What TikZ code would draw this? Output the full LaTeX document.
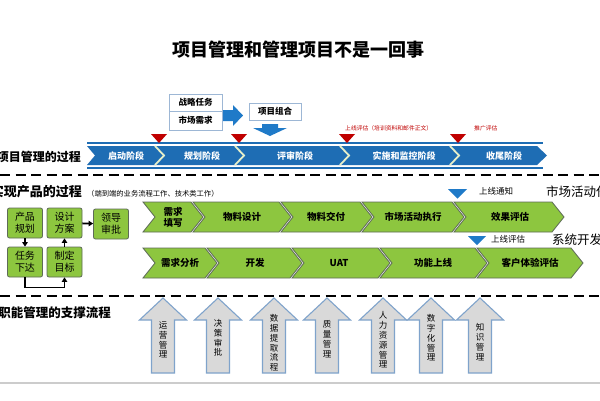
\documentclass[tikz,border=0pt]{standalone}
\usepackage{fontspec}
\setmainfont{Noto Sans CJK SC}
\usetikzlibrary{arrows.meta}
\definecolor{bandblue}{HTML}{1E6DB4}
\definecolor{sepc}{HTML}{E6EFC9}
\definecolor{trired}{HTML}{C00000}
\definecolor{triblue}{HTML}{1F7AC8}
\definecolor{chevgreen}{HTML}{8DC63F}
\definecolor{chevedge}{HTML}{5E6B58}
\definecolor{boxedge}{HTML}{9DB7D5}
\definecolor{arrowgray}{HTML}{D9D9D9}
\definecolor{arrowedge}{HTML}{7FA3CB}
\definecolor{rulegray}{HTML}{CCCCCC}
\newcommand\chevshape[5]{%
  \filldraw[fill=chevgreen,draw=chevedge,line width=0.8pt,line join=miter]
  (#1,#3) -- (#2,#3) -- ({#2+#5},{(#3+#4)/2}) -- (#2,#4) -- (#1,#4) -- ({#1+#5},{(#3+#4)/2}) -- cycle;}
\newcommand\uparrowbox[1]{%
  \filldraw[fill=arrowgray,draw=arrowedge,line width=1.1pt,line join=miter]
  ({#1-11.5},373) -- ({#1-11.5},320) -- ({#1-23.5},320) -- (#1,298) -- ({#1+23.5},320) -- ({#1+11.5},320) -- ({#1+11.5},373) -- cycle;}
\newcommand\redtri[1]{\fill[trired] ({#1-8},134) -- ({#1+8},134) -- (#1,143) -- cycle;}
\newcommand\sepline[1]{\draw[sepc,line width=1.8pt] ({#1-5},146) -- ({#1+4},155.5) -- ({#1-5},165);}
\begin{document}
\begin{tikzpicture}[x=1pt,y=-1pt,
  lbl/.style={inner sep=0pt,font=\fontsize{12.5}{14}\selectfont\bfseries},
  bandtxt/.style={inner sep=0pt,text=white,font=\fontsize{9}{10}\selectfont\bfseries},
  topbox/.style={draw=boxedge,fill=white,line width=0.8pt,minimum width=53pt,inner sep=0pt,font=\fontsize{8.5}{10}\selectfont\bfseries},
  gbox/.style={draw=chevedge,fill=chevgreen,rounded corners=2pt,line width=0.8pt,minimum width=35pt,minimum height=30pt,inner sep=0pt,align=center,font=\fontsize{10}{12}\selectfont},
  chevtxt/.style={inner sep=0pt,align=center,font=\fontsize{9.5}{11}\selectfont\bfseries},
  conn/.style={line width=1.8pt,-{Triangle[length=4.5pt,width=5.5pt]}},
  vtxt/.style={inner sep=0pt,align=center,font=\fontsize{8.5}{9.8}\selectfont},
  smalllbl/.style={inner sep=0pt,font=\fontsize{8.5}{10}\selectfont},
  redlbl/.style={inner sep=0pt,text=trired,font=\fontsize{5.8}{7}\selectfont},
  sep/.style={line width=2.4pt,dash pattern=on 10pt off 5.5pt}
]
\useasboundingbox (0,0) rectangle (600,400);
\fill[white] (0,0) rectangle (600,400);

% title
\node[font=\fontsize{18}{21}\selectfont\bfseries] (title) at (298,50) {项目管理和管理项目不是一回事};

% ---------- top section ----------
\node[topbox,minimum height=17pt] (zl) at (195.5,102.5) {战略任务};
\node[topbox,minimum height=19pt] (sc) at (195.5,120.5) {市场需求};
\node[topbox,minimum width=52pt,minimum height=17pt] (xm) at (275,111.5) {项目组合};
\fill[triblue] (223,110) -- (233,110) -- (233,105) -- (243,115.5) -- (233,126) -- (233,121) -- (223,121) -- cycle;
\fill[triblue] (262,124) -- (278,124) -- (278,128) -- (287,128) -- (270,136) -- (253,128) -- (262,128) -- cycle;

\draw[bandblue,line width=2pt] (87,143) -- (543,143);
\draw[bandblue,line width=2pt] (87,167.5) -- (543,167.5);
\fill[bandblue] (87,146) -- (537,146) -- (547,155.5) -- (537,165) -- (87,165) -- (95,155.5) -- cycle;
\sepline{160}\sepline{240}\sepline{345}\sepline{455}
\node[bandtxt] (s1) at (126,156) {启动阶段};
\node[bandtxt] (s2) at (202,156) {规划阶段};
\node[bandtxt] (s3) at (295,156) {评审阶段};
\node[bandtxt] (s4) at (404,156) {实施和监控阶段};
\node[bandtxt] (s5) at (504,156) {收尾阶段};
\redtri{159}\redtri{239}\redtri{347}\redtri{458}
\node[redlbl,anchor=west] (r1) at (345,128) {上线评估（培训资料和邮件正文）};
\node[redlbl,anchor=west] (r2) at (474,128) {推广评估};
\node[lbl,anchor=east,font=\fontsize{12}{14}\selectfont\bfseries] (l1) at (81,157) {项目管理的过程};

\draw[sep] (0,175) -- (600,175);

% ---------- middle section ----------
\node[lbl,anchor=east,font=\fontsize{13}{15}\selectfont\bfseries] (l2) at (82,192) {实现产品的过程};
\node[inner sep=0pt,anchor=west,font=\fontsize{7.3}{9}\selectfont] (l2s) at (87,193.5) {（端到端的业务流程工作、技术类工作）};

\node[gbox] (pg) at (25,223) {产品\\规划};
\node[gbox] (sj) at (64.5,223) {设计\\方案};
\node[gbox] (ld) at (111,224) {领导\\审批};
\node[gbox] (rw) at (25,262) {任务\\下达};
\node[gbox] (zd) at (64.5,262) {制定\\目标};
\draw[conn] (pg) -- (rw);
\draw[conn] (rw.south) -- ++(0,10) -| (zd.south);
\draw[conn] (zd) -- (sj);
\draw[conn] (sj) -- (ld);

% row 1
\chevshape{143}{191}{202}{232}{12}
\chevshape{193}{279}{202}{232}{12}
\chevshape{281}{360}{202}{232}{12}
\chevshape{362}{452}{202}{232}{12}
\chevshape{454}{552}{202}{232}{12}
\node[chevtxt] (c1) at (173,217) {需求\\填写};
\node[chevtxt] (c2) at (242,217) {物料设计};
\node[chevtxt] (c3) at (326,217) {物料交付};
\node[chevtxt] (c4) at (413,217) {市场活动执行};
\node[chevtxt] (c5) at (510,217) {效果评估};
% row 2
\chevshape{143}{205}{248}{278}{12}
\chevshape{207}{290}{248}{278}{12}
\chevshape{292}{378}{248}{278}{12}
\chevshape{380}{475}{248}{278}{12}
\chevshape{477}{571}{248}{278}{12}
\node[chevtxt] (d1) at (180,263) {需求分析};
\node[chevtxt] (d2) at (255,263) {开发};
\node[chevtxt] (d3) at (339,263) {UAT};
\node[chevtxt] (d4) at (433,263) {功能上线};
\node[chevtxt] (d5) at (530,263) {客户体验评估};

\fill[triblue] (448,189) -- (467,189) -- (457.5,198.5) -- cycle;
\fill[triblue] (468,236) -- (486,236) -- (477,245) -- cycle;
\node[smalllbl,anchor=west] (t1) at (479,191.5) {上线通知};
\node[smalllbl,anchor=west] (t2) at (491,239) {上线评估};
\node[lbl,anchor=west,font=\fontsize{12.5}{14}\selectfont] (m1) at (546,192) {市场活动任};
\node[lbl,anchor=west,font=\fontsize{12.5}{14}\selectfont] (m2) at (552,240) {系统开发};

\draw[sep] (0,296) -- (600,296);

% ---------- bottom section ----------
\node[lbl,anchor=east] (l3) at (111,313) {职能管理的支撑流程};
\uparrowbox{163}\uparrowbox{218}\uparrowbox{274}\uparrowbox{327}\uparrowbox{383}\uparrowbox{431}\uparrowbox{480}
\node[vtxt] (u1) at (163,340) {运\\营\\管\\理};
\node[vtxt] (u2) at (218,338) {决\\策\\审\\批};
\node[vtxt] (u3) at (274,343) {数\\据\\提\\取\\流\\程};
\node[vtxt] (u4) at (327,339) {质\\量\\管\\理};
\node[vtxt] (u5) at (383,340) {人\\力\\资\\源\\管\\理};
\node[vtxt] (u6) at (431,338) {数\\字\\化\\管\\理};
\node[vtxt] (u7) at (480,342) {知\\识\\管\\理};

\draw[rulegray,line width=2pt] (0,383) -- (600,383);
\end{tikzpicture}
\end{document}
